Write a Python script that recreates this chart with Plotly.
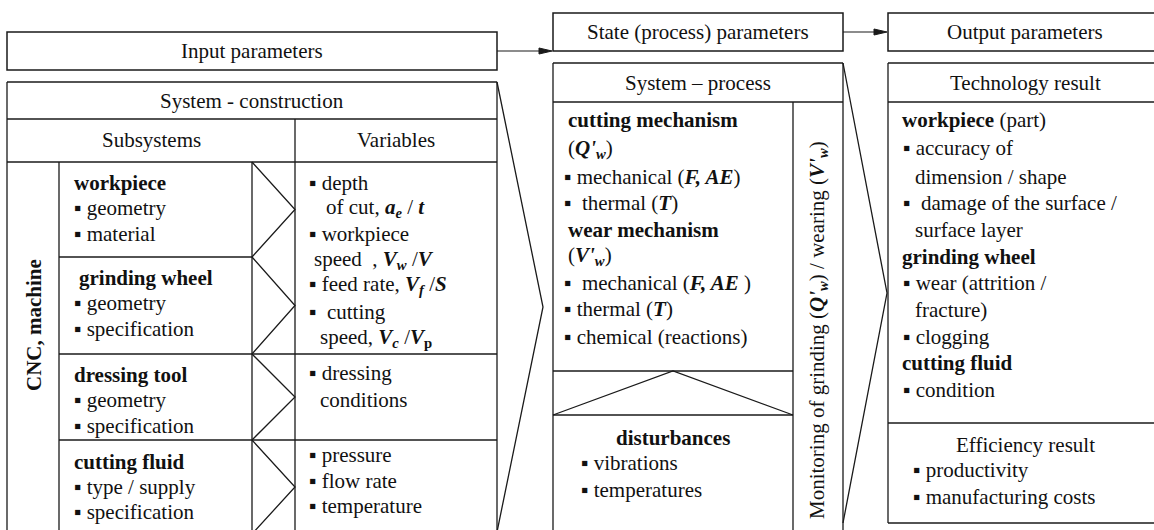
import plotly.graph_objects as go

# ---------------- text content ----------------
top_headers = ["Input parameters", "State (process) parameters", "Output parameters"]
section_titles = ["System - construction", "System \u2013 process", "Technology result"]
column_titles = ["Subsystems", "Variables"]
side_label = "<b>CNC, machine</b>"

B = "\u25aa"  # small square bullet

def bi(s):
    return "<b><i>" + s + "</i></b>"

subsystem_lines = [
    "<b>workpiece</b>", B + " geometry", B + " material",
    "<b>grinding wheel</b>", B + " geometry", B + " specification",
    "<b>dressing tool</b>", B + " geometry", B + " specification",
    "<b>cutting fluid</b>", B + " type / supply", B + " specification",
]
variable_lines = [
    B + " depth",
    "of cut, " + bi("a") + "<sub>" + bi("e") + "</sub> / " + bi("t"),
    B + " workpiece",
    "speed  , " + bi("V") + "<sub>" + bi("w") + "</sub> /" + bi("V"),
    B + " feed rate, " + bi("V") + "<sub>" + bi("f") + "</sub> /" + bi("S"),
    B + "  cutting",
    "speed, " + bi("V") + "<sub>" + bi("c") + "</sub> /" + bi("V") + "<sub><b>p</b></sub>",
    B + " dressing",
    "conditions",
    B + " pressure", B + " flow rate", B + " temperature",
]
process_lines = [
    "<b>cutting mechanism</b>",
    "(" + bi("Q'") + "<sub>" + bi("w") + "</sub>)",
    B + " mechanical (" + bi("F, AE") + ")",
    B + "  thermal (" + bi("T") + ")",
    "<b>wear mechanism</b>",
    "(" + bi("V'") + "<sub>" + bi("w") + "</sub>)",
    B + "  mechanical (" + bi("F, AE") + " )",
    B + " thermal (" + bi("T") + ")",
    B + " chemical (reactions)",
]
disturbance_title = "<b>disturbances</b>"
disturbance_lines = [B + " vibrations", B + " temperatures"]
monitoring_label = ("Monitoring of grinding (" + bi("Q'") + "<sub>" + bi("w") + "</sub>) / wearing ("
                    + bi("V'") + "<sub>" + bi("w") + "</sub>)")
technology_lines = [
    "<b>workpiece</b> (part)",
    B + " accuracy of",
    "dimension / shape",
    B + "  damage of the surface /",
    "surface layer",
    "<b>grinding wheel</b>",
    B + " wear (attrition /",
    "fracture)",
    B + " clogging",
    "<b>cutting fluid</b>",
    B + " condition",
]
efficiency_title = "Efficiency result"
efficiency_lines = [B + " productivity", B + " manufacturing costs"]

# ---------------- layout positions (pixels) ----------------
W, H = 1154, 530
FONT = "Liberation Serif, Times New Roman, serif"
FS = 21
LC = "#1a1a1a"
LW = 1.3

sub_x = [72, 72, 72, 77, 72, 72, 72, 72, 72, 72, 72, 72]
sub_y = [183, 208, 234, 278, 303, 329, 375, 400, 426, 462, 487, 512]
var_x = [307, 324, 307, 312, 307, 307, 318, 307, 318, 307, 307, 307]
var_y = [183, 208, 234, 260, 285, 312, 338, 373, 400, 455, 481, 506]
proc_x = [566, 566, 562, 562, 566, 566, 562, 562, 562]
proc_y = [120, 149, 177, 203, 230, 256, 283, 309, 337]
tech_x = [900, 901, 913, 901, 913, 900, 901, 913, 901, 900, 901]
tech_y = [120, 148, 177, 203, 230, 257, 283, 310, 337, 363, 390]

shapes = []

def line(x0, y0, x1, y1, w=LW):
    shapes.append(dict(type="line", xref="x", yref="y", x0=x0, y0=y0, x1=x1, y1=y1,
                       line=dict(color=LC, width=w)))

def path(pts, w=LW, fill=None, close=False):
    d = "M " + " L ".join(f"{px},{py}" for px, py in pts) + (" Z" if close else "")
    shp = dict(type="path", xref="x", yref="y", path=d, line=dict(color=LC, width=w))
    if fill:
        shp["fillcolor"] = fill
    shapes.append(shp)

def rect(x0, y0, x1, y1, w=1.5):
    shapes.append(dict(type="rect", xref="x", yref="y", x0=x0, y0=y0, x1=x1, y1=y1,
                       line=dict(color=LC, width=w), fillcolor="rgba(0,0,0,0)"))

BOT = 545
# top header boxes
rect(7, 32, 497, 70)
rect(553, 13, 843, 51)
rect(888, 13, 1170, 51)

# left system - construction
line(7, 82, 497, 82)
line(7, 119, 497, 119)
line(7, 162, 497, 162)
line(7, 82, 7, BOT)
line(497, 82, 497, BOT)
line(295, 119, 295, BOT)
line(59, 162, 59, BOT)
line(252, 162, 252, BOT)
line(59, 257, 252, 257)
line(59, 354, 497, 354)
line(59, 440, 497, 440)
for t, b in [(162, 257), (257, 354), (354, 440), (440, 534)]:
    path([(252, t), (295, (t + b) / 2), (252, b)])
path([(497, 82), (543, 307), (497, 532)])

# middle system - process
line(553, 63, 843, 63)
line(553, 102, 843, 102)
line(553, 63, 553, BOT)
line(843, 63, 843, BOT)
line(793, 102, 793, BOT)
line(553, 371, 793, 371)
line(553, 415, 793, 415)
path([(553, 415), (673, 371), (793, 415)])
path([(843, 63), (887, 293), (843, 523)])

# right output
line(888, 63, 1170, 63)
line(888, 102, 1170, 102)
line(888, 423, 1170, 423)
line(888, 523, 1170, 523)
line(888, 63, 888, 523)

# arrows (line + filled head)
for (x0, y0, x1, y1) in [(497, 51, 552, 51), (843, 32, 887, 32)]:
    line(x0, y0, x1 - 10, y1, 1.2)
    path([(x1 - 13, y1 - 3), (x1, y1), (x1 - 13, y1 + 3)], w=1, fill=LC, close=True)

annotations = []

def txt(x, y, s, anchor="left", angle=0):
    annotations.append(dict(x=x, y=y, xref="x", yref="y", text=s, showarrow=False,
                            xanchor=anchor, yanchor="middle", textangle=angle,
                            font=dict(family=FONT, size=FS, color="#111")))

# headers
txt(252, 51, top_headers[0], "center")
txt(698, 32, top_headers[1], "center")
txt(1025, 32, top_headers[2], "center")
txt(252, 101, section_titles[0], "center")
txt(698, 83, section_titles[1], "center")
txt(1025, 83, section_titles[2], "center")
txt(151, 140, column_titles[0], "center")
txt(396, 140, column_titles[1], "center")
txt(34, 325, side_label, "center", -90)
txt(818, 330, monitoring_label, "center", -90)

for s, x, y in zip(subsystem_lines, sub_x, sub_y):
    txt(x, y, s)
for s, x, y in zip(variable_lines, var_x, var_y):
    txt(x, y, s)
for s, x, y in zip(process_lines, proc_x, proc_y):
    txt(x, y, s)
txt(673, 438, disturbance_title, "center")
for s, y in zip(disturbance_lines, [463, 490]):
    txt(579, y, s)
for s, x, y in zip(technology_lines, tech_x, tech_y):
    txt(x, y, s)
txt(1025, 445, efficiency_title, "center")
for s, y in zip(efficiency_lines, [470, 497]):
    txt(911, y, s)

fig = go.Figure()
fig.update_layout(
    width=W, height=H, margin=dict(l=0, r=0, t=0, b=0),
    paper_bgcolor="white", plot_bgcolor="white",
    xaxis=dict(range=[0, W], visible=False, fixedrange=True),
    yaxis=dict(range=[H, 0], visible=False, fixedrange=True),
    shapes=shapes, annotations=annotations, showlegend=False,
)
fig.write_html("out.html", config={"displayModeBar": False},
               post_script="document.body.style.margin='0px';document.body.style.overflow='hidden';")
